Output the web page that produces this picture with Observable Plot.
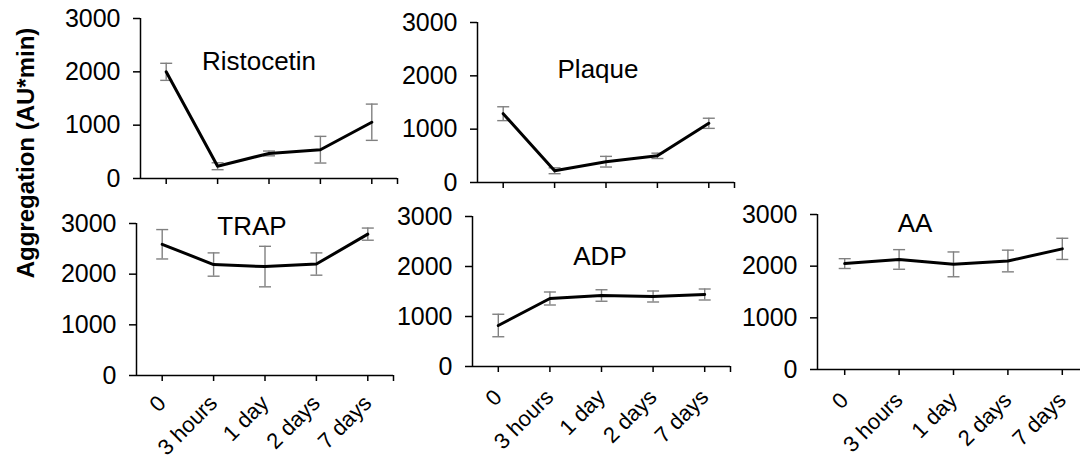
<!DOCTYPE html>
<html>
<head>
<meta charset="utf-8">
<script src="https://cdn.jsdelivr.net/npm/d3@7"></script>
<script src="https://cdn.jsdelivr.net/npm/@observablehq/plot@0.6"></script>
<style>
  html, body { margin: 0; padding: 0; background: #fff; }
  #chart { position: relative; width: 1080px; height: 461px; overflow: hidden; background: #fff;
           font-family: "Liberation Sans", Arial, sans-serif; }
  #chart svg.panel { position: absolute; }
  #overlay { position: absolute; left: 0; top: 0; pointer-events: none; }
</style>
</head>
<body>
<div id="chart"></div>
<script>
// ---------- data ----------
const times = ["0", "3 hours", "1 day", "2 days", "7 days"];
const yTicks = [0, 1000, 2000, 3000];
const yTitle = "Aggregation (AU*min)";

const ristocetinMean = [2000, 230, 470, 540, 1055];
const ristocetinErr  = [160, 65, 45, 250, 340];
const plaqueMean = [1290, 220, 390, 500, 1110];
const plaqueErr  = [130, 55, 100, 50, 95];
const trapMean = [2590, 2190, 2150, 2200, 2790];
const trapErr  = [290, 230, 400, 220, 120];
const adpMean = [820, 1360, 1420, 1400, 1440];
const adpErr  = [225, 130, 115, 110, 110];
const aaMean = [2050, 2130, 2035, 2100, 2335];
const aaErr  = [95, 190, 240, 210, 205];

// ---------- layout ----------
const panels = [
  {name: "Ristocetin", mean: ristocetinMean, err: ristocetinErr, left: 0,   top: 0,   width: 400, height: 190, ml: 140, mt: 18, mb: 12, labels: false, pad: 21, tx: 259, ty: 70},
  {name: "Plaque",     mean: plaqueMean,     err: plaqueErr,     left: 380, top: 0,   width: 357, height: 190, ml: 97,  mt: 22, mb: 8,  labels: false, pad: 21, tx: 598, ty: 78},
  {name: "TRAP",       mean: trapMean,       err: trapErr,       left: 0,   top: 200, width: 396, height: 261, ml: 136, mt: 23, mb: 86, labels: true,  pad: 18, tx: 252, ty: 235},
  {name: "ADP",        mean: adpMean,        err: adpErr,        left: 380, top: 195, width: 353, height: 266, ml: 92,  mt: 21, mb: 95, labels: true,  pad: 21, tx: 600, ty: 265},
  {name: "AA",         mean: aaMean,         err: aaErr,         left: 730, top: 193, width: 362, height: 268, ml: 87,  mt: 21, mb: 92, labels: true,  pad: 21, tx: 915, ty: 232}
];

const capSymbol = {
  draw(context, size) {
    const r = Math.sqrt(size / Math.PI);
    context.moveTo(-r, 0);
    context.lineTo(r, 0);
  }
};

const chart = document.getElementById("chart");

for (const p of panels) {
  const data = times.map((t, i) => ({i, t, v: p.mean[i], lo: p.mean[i] - p.err[i], hi: p.mean[i] + p.err[i]}));
  const svg = Plot.plot({
    width: p.width,
    height: p.height,
    marginLeft: p.ml,
    marginRight: 3,
    marginTop: p.mt,
    marginBottom: p.mb,
    style: {background: "transparent", maxWidth: "none", overflow: "visible",
            fontFamily: "'Liberation Sans', Arial, sans-serif", fontSize: "24px", color: "#000"},
    x: {domain: [-0.5, 4.5], axis: null},
    y: {domain: [0, 3000], axis: null},
    marks: [
      Plot.axisY({ticks: yTicks, tickSize: 7, tickPadding: 13, tickFormat: d => String(d),
                  label: null, strokeWidth: 1.5, fontSize: 25}),
      Plot.ruleX([-0.5], {strokeWidth: 1.5}),
      Plot.ruleY([0], {strokeWidth: 1.5}),
      Plot.axisX({ticks: [0, 1, 2, 3, 4, 4.5], tickSize: 6, tickPadding: p.pad, tickRotate: -45,
                  tickFormat: d => (p.labels && Number.isInteger(d)) ? times[d] : "",
                  label: null, strokeWidth: 1.5, fontSize: 22}),
      Plot.ruleX(data, {x: "i", y1: "lo", y2: "hi", stroke: "#808080", strokeWidth: 1.4}),
      Plot.dot(data, {x: "i", y: "lo", symbol: capSymbol, r: 6, stroke: "#808080", strokeWidth: 1.4}),
      Plot.dot(data, {x: "i", y: "hi", symbol: capSymbol, r: 6, stroke: "#808080", strokeWidth: 1.4}),
      Plot.line(data, {x: "i", y: "v", stroke: "#000", strokeWidth: 3})
    ]
  });
  svg.classList.add("panel");
  svg.style.left = p.left + "px";
  svg.style.top = p.top + "px";
  chart.appendChild(svg);
}

// titles and shared y-axis title
const overlay = d3.select(chart).append("svg")
  .attr("id", "overlay").attr("width", 1080).attr("height", 461)
  .style("font-family", "'Liberation Sans', Arial, sans-serif");

overlay.selectAll("text.ptitle").data(panels).join("text")
  .attr("class", "ptitle")
  .attr("x", d => d.tx).attr("y", d => d.ty)
  .attr("text-anchor", "middle")
  .attr("font-size", 26)
  .attr("fill", "#000")
  .text(d => d.name);

overlay.append("text")
  .attr("transform", "translate(34,153) rotate(-90)")
  .attr("text-anchor", "middle")
  .attr("font-size", 24)
  .attr("font-weight", "bold")
  .attr("fill", "#000")
  .text(yTitle);
</script>
</body>
</html>
